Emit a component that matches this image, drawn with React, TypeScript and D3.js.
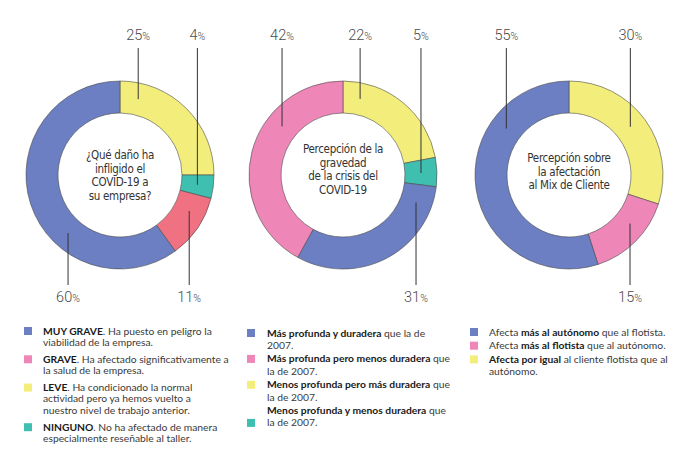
import React from "react";
import * as d3 from "d3";

// ---------- DATA ----------
const c1Cats = ["LEVE", "NINGUNO", "GRAVE", "MUY GRAVE"];
const c1Values = [25, 4, 11, 60];
const c1Colors = ["#f3ee7c", "#3fbfb0", "#f07282", "#6b7fc2"];
const c1Title = ["¿Qué daño ha", "infligido el", "COVID-19 a", "su empresa?"];
const c1Side = ["top", "top", "bottom", "bottom"];
const c1Frac = [0.15, 0.5, 0.33, 0.36];

const c2Cats = ["Menos profunda pero más duradera", "Menos profunda y menos duradera", "Más profunda y duradera", "Más profunda pero menos duradera"];
const c2Values = [22, 5, 31, 42];
const c2Colors = ["#f3ee7c", "#3fbfb0", "#6b7fc2", "#ee86b8"];
const c2Title = ["Percepción de la", "gravedad", "de la crisis del", "COVID-19"];
const c2Side = ["top", "top", "bottom", "top"];
const c2Frac = [0.16, 0.52, 0.12, 0.66];

const c3Cats = ["Afecta por igual", "Afecta más al flotista", "Afecta más al autónomo"];
const c3Values = [30, 15, 55];
const c3Colors = ["#f3ee7c", "#ee86b8", "#6b7fc2"];
const c3Title = ["Percepción sobre", "la afectación", "al Mix de Cliente"];
const c3Side = ["top", "bottom", "top"];
const c3Frac = [0.48, 0.38, 0.73];

type Seg = [string, boolean];
type Entry = { color: string; lines: Seg[][]; swatchLine: number };

const legend1: Entry[] = [
  { color: "#6b7fc2", swatchLine: 0, lines: [[["MUY GRAVE", true], [". Ha puesto en peligro la", false]], [["viabilidad de la empresa.", false]]] },
  { color: "#ee86b8", swatchLine: 0, lines: [[["GRAVE", true], [". Ha afectado significativamente a", false]], [["la salud de la empresa.", false]]] },
  { color: "#f3ee7c", swatchLine: 0, lines: [[["LEVE", true], [". Ha condicionado la normal", false]], [["actividad pero ya hemos vuelto a", false]], [["nuestro nivel de trabajo anterior.", false]]] },
  { color: "#3fbfb0", swatchLine: 0, lines: [[["NINGUNO", true], [". No ha afectado de manera", false]], [["especialmente reseñable al taller.", false]]] },
];
const legend2: Entry[] = [
  { color: "#6b7fc2", swatchLine: 0, lines: [[["Más profunda y duradera", true], [" que la de", false]], [["2007.", false]]] },
  { color: "#ee86b8", swatchLine: 0, lines: [[["Más profunda pero menos duradera", true], [" que", false]], [["la de 2007.", false]]] },
  { color: "#f3ee7c", swatchLine: 0, lines: [[["Menos profunda pero más duradera", true], [" que", false]], [["la de 2007.", false]]] },
  { color: "#3fbfb0", swatchLine: 1, lines: [[["Menos profunda y menos duradera", true], [" que", false]], [["la de 2007.", false]]] },
];
const legend3: Entry[] = [
  { color: "#6b7fc2", swatchLine: 0, lines: [[["Afecta ", false], ["más al autónomo", true], [" que al flotista.", false]]] },
  { color: "#ee86b8", swatchLine: 0, lines: [[["Afecta ", false], ["más al flotista", true], [" que al autónomo.", false]]] },
  { color: "#f3ee7c", swatchLine: 0, lines: [[["Afecta por igual", true], [" al cliente flotista que al", false]], [["autónomo.", false]]] },
];

// ---------- LAYOUT ----------
const W = 690;
const H = 454;
const R_OUT = 94;
const R_IN = 62;
const R_MID = 78;
const CY = 175;
const TOP_LABEL_Y = 40;
const TOP_LINE_Y = 48;
const BOT_LABEL_Y = 302;
const BOT_LINE_Y = 285;

const charts = [
  { cx: 120, cats: c1Cats, values: c1Values, colors: c1Colors, title: c1Title, side: c1Side, frac: c1Frac, titleY: 155 },
  { cx: 343, cats: c2Cats, values: c2Values, colors: c2Colors, title: c2Title, side: c2Side, frac: c2Frac, titleY: 149 },
  { cx: 569, cats: c3Cats, values: c3Values, colors: c3Colors, title: c3Title, side: c3Side, frac: c3Frac, titleY: 158 },
];

const legends = [
  { entries: legend1, sx: 24, tx: 43, y0: 331, lh: 11.3, gap: 5.7 },
  { entries: legend2, sx: 247, tx: 267, y0: 333, lh: 12.2, gap: 1.5 },
  { entries: legend3, sx: 470, tx: 489, y0: 332, lh: 12.2, gap: 1.5 },
];

const arcGen = d3.arc<d3.PieArcDatum<number>>().innerRadius(R_IN).outerRadius(R_OUT);
const pieGen = d3.pie<number>().sort(null).value((d) => d).startAngle(0).endAngle(2 * Math.PI);

function Donut({ c }: { c: (typeof charts)[number] }) {
  const arcs = pieGen(c.values);
  return (
    <g>
      <g transform={`translate(${c.cx},${CY})`}>
        {arcs.map((a, i) => (
          <path key={i} d={arcGen(a) || ""} fill={c.colors[i]} stroke="#4a4a4a" strokeWidth={0.6} />
        ))}
      </g>
      {arcs.map((a, i) => {
        const ang = a.startAngle + (a.endAngle - a.startAngle) * c.frac[i];
        const x = c.cx + R_MID * Math.sin(ang);
        const y = CY - R_MID * Math.cos(ang);
        const top = c.side[i] === "top";
        return (
          <g key={"l" + i}>
            <line x1={x} x2={x} y1={top ? TOP_LINE_Y : y} y2={top ? y : BOT_LINE_Y} stroke="#333" strokeWidth={1} />
            <text x={x} y={top ? TOP_LABEL_Y : BOT_LABEL_Y} textAnchor="middle" fill="#4a4a4a" fontFamily="Roboto" fontWeight={300} fontSize={14.5}>
              {c.values[i]}
              <tspan fontSize={10.5}>%</tspan>
            </text>
          </g>
        );
      })}
      {c.title.map((t, i) => (
        <text key={"t" + i} x={c.cx} y={c.titleY + i * 13.5 + 4} textAnchor="middle" fill="#333" fontFamily="'DejaVu Sans Condensed', 'DejaVu Sans'" fontSize={11.5} letterSpacing={-0.3}>
          {t}
        </text>
      ))}
    </g>
  );
}

function Legend({ l }: { l: (typeof legends)[number] }) {
  let y = l.y0;
  const out: React.ReactNode[] = [];
  l.entries.forEach((e, ei) => {
    e.lines.forEach((segs, li) => {
      const ly = y;
      if (li === e.swatchLine) {
        out.push(<rect key={`s${ei}`} x={l.sx} y={ly - 4} width={8} height={8} fill={e.color} />);
      }
      out.push(
        <text key={`t${ei}-${li}`} x={l.tx} y={ly + 3.5} fontFamily="Lato" fontSize={10.3} fill="#3a3a3a">
          {segs.map((s, si) => (
            <tspan key={si} fontWeight={s[1] ? 700 : 400} fill={s[1] ? "#1a1a1a" : "#3a3a3a"}>
              {s[0]}
            </tspan>
          ))}
        </text>
      );
      y += l.lh;
    });
    y += l.gap;
  });
  return <g>{out}</g>;
}

export default function App() {
  return (
    <svg width={W} height={H} style={{ display: "block", position: "absolute", left: 0, top: 0, background: "#fff" }}>
      <rect width={W} height={H} fill="#fff" />
      {charts.map((c, i) => (
        <Donut key={i} c={c} />
      ))}
      {legends.map((l, i) => (
        <Legend key={i} l={l} />
      ))}
    </svg>
  );
}
